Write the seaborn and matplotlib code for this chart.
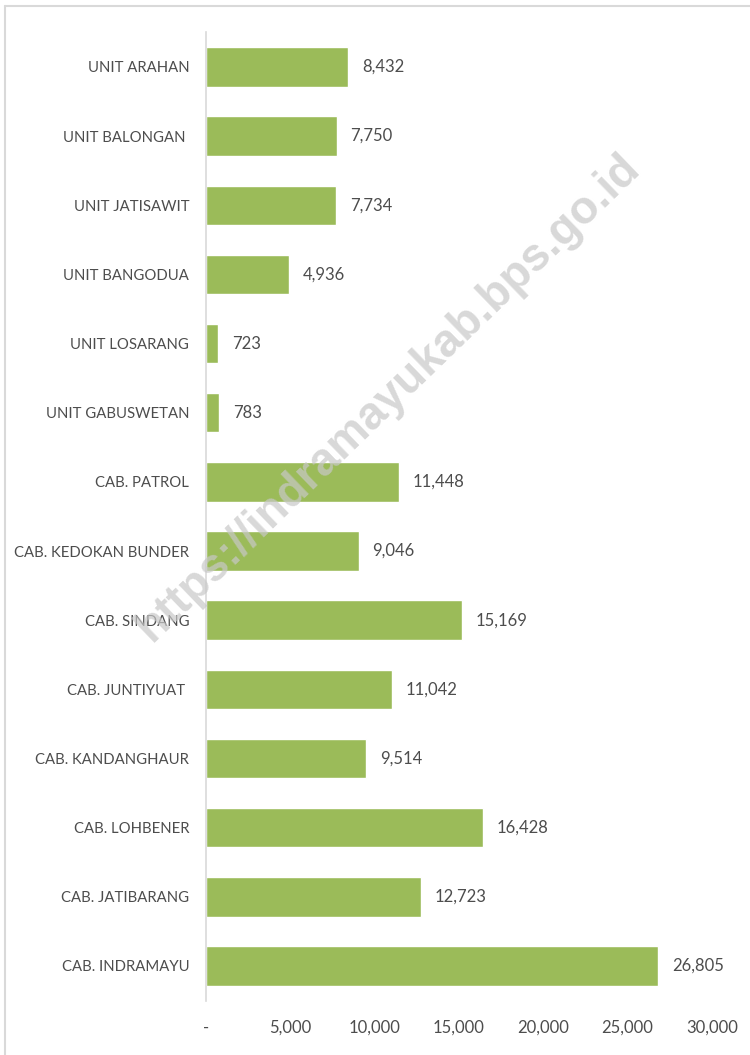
import numpy as np
import pandas as pd
import matplotlib.pyplot as plt
import seaborn as sns
from matplotlib.lines import Line2D
from matplotlib.ticker import FuncFormatter

# data
units = ['UNIT ARAHAN', 'UNIT BALONGAN ', 'UNIT JATISAWIT', 'UNIT BANGODUA',
         'UNIT LOSARANG', 'UNIT GABUSWETAN', 'CAB. PATROL', 'CAB. KEDOKAN BUNDER',
         'CAB. SINDANG', 'CAB. JUNTIYUAT ', 'CAB. KANDANGHAUR', 'CAB. LOHBENER',
         'CAB. JATIBARANG', 'CAB. INDRAMAYU']
values = [8432, 7750, 7734, 4936, 723, 783, 11448, 9046,
          15169, 11042, 9514, 16428, 12723, 26805]
xticks = [0, 5000, 10000, 15000, 20000, 25000, 30000]

df = pd.DataFrame({'unit': units, 'value': values})

sns.set_style('white')
plt.rcParams['font.family'] = ['Lato', 'DejaVu Sans']
txt = '#4d4d4d'

fig = plt.figure(figsize=(7.5, 10.55), dpi=100)
ax = fig.add_axes([0.2747, 0.0516, 0.949 - 0.2747, 0.9693 - 0.0516])
ax.set_facecolor('none')

sns.barplot(data=df, x='value', y='unit', orient='h', color='#9BBB59',
            saturation=1, width=0.57, ax=ax)

ax.bar_label(ax.containers[0], labels=[f'{v:,}' for v in values],
             padding=10, fontsize=12, color=txt)

ax.set_xlim(0, 30000)
ax.set_xticks(xticks)
ax.xaxis.set_major_formatter(FuncFormatter(lambda v, p: '-' if v == 0 else f'{int(v):,}'))
ax.set_xlabel('')
ax.set_ylabel('')
ax.tick_params(axis='x', length=0, pad=14, labelsize=12, labelcolor=txt)
ax.tick_params(axis='y', length=0, pad=12, labelsize=10.7, labelcolor=txt)

for s in ['top', 'right', 'bottom']:
    ax.spines[s].set_visible(False)
ax.spines['left'].set_color('#d9d9d9')
ax.spines['left'].set_linewidth(1.2)

# watermark, semi-transparent over the bars
fig.text(388 / 750, 1 - 398 / 1055, 'https://indramayukab.bps.go.id',
         rotation=44, fontsize=33, fontweight='bold', color='#c8c8c8', alpha=0.7,
         family='Liberation Sans', ha='center', va='center', zorder=5)

# outer frame lines
fig.add_artist(Line2D([4.5 / 750, 1], [1 - 5.5 / 1055, 1 - 5.5 / 1055],
                      color='#d9d9d9', lw=1.5))
fig.add_artist(Line2D([4.5 / 750, 4.5 / 750], [0, 1 - 5.5 / 1055],
                      color='#d9d9d9', lw=1.5))

fig.savefig('out.png', dpi=100, facecolor='white')
